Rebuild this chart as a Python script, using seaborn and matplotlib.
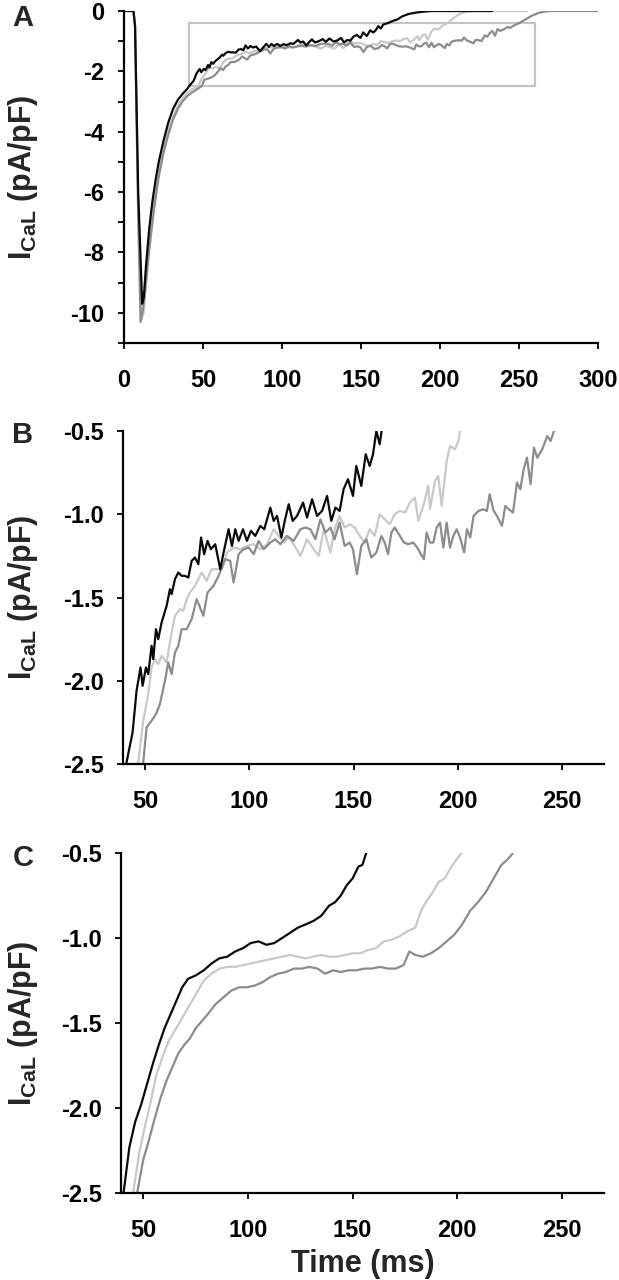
import numpy as np
import pandas as pd
import matplotlib
matplotlib.use("Agg")
import matplotlib.pyplot as plt
from matplotlib.patches import Rectangle
from matplotlib.ticker import MultipleLocator, FormatStrFormatter
import seaborn as sns

black_raw = [(0, 0), (6, 0), (7, -0.5), (9, -6.0), (11.5, -9.7), (12.5, -9.5), (14, -8.4), (16, -7.2),
             (18, -6.3), (20, -5.6), (22, -5.0), (25, -4.3), (28, -3.7), (31, -3.25), (34, -2.95),
             (37, -2.75), (40, -2.58), (41.2, -2.49), (44.1, -2.31), (46, -2.06), (47.9, -1.92),
             (48.9, -2.03), (50.5, -1.92), (51.6, -1.96), (53.2, -1.79), (54, -1.87), (55.3, -1.69),
             (56.4, -1.75), (58, -1.65), (60.4, -1.55), (62, -1.45), (62.8, -1.48), (64.4, -1.39),
             (66, -1.35), (67.6, -1.37), (69.2, -1.37), (70.8, -1.38), (72.4, -1.28), (74, -1.26),
             (75.6, -1.30), (76.9, -1.14), (78.4, -1.24), (80, -1.16), (81.6, -1.21), (83.7, -1.18),
             (86.1, -1.33), (87.7, -1.23), (90.1, -1.09), (91.7, -1.19), (93.3, -1.09), (94.9, -1.16),
             (97, -1.09), (98.9, -1.16), (100.8, -1.10), (102.9, -1.13), (105.3, -1.07), (107.2, -1.09),
             (110.1, -0.96), (111.7, -1.04), (113.3, -1.01), (115.4, -1.14), (117, -1.04), (118.9, -0.94),
             (120.8, -1.04), (122.9, -1.01), (125.8, -0.93), (127.7, -1.02), (130.1, -0.91), (132.5, -1.01),
             (134.9, -0.98), (137.3, -0.89), (139.3, -1.04), (141.3, -0.96), (143.3, -0.98), (145.2, -0.85),
             (147.3, -0.79), (149.7, -0.89), (151.3, -0.71), (153.7, -0.83), (155.8, -0.64), (157.7, -0.71),
             (159.3, -0.64), (160.9, -0.50), (162.5, -0.58), (164, -0.45), (167, -0.40), (170, -0.33),
             (173, -0.28), (176, -0.18), (180, -0.10), (185, -0.05), (190, -0.02), (195, 0), (233, 0)]

light_raw = [(0, 0), (6, 0), (7, -0.5), (9, -6.5), (11, -10.2), (12.5, -10.0), (14, -8.8), (16, -7.6),
             (18, -6.7), (20, -6.0), (22, -5.3), (25, -4.55), (28, -3.95), (31, -3.5), (34, -3.15),
             (37, -2.9), (40, -2.72), (43, -2.6), (46.8, -2.49), (49.2, -2.24), (51.6, -2.08), (53.2, -1.92),
             (54.8, -1.87), (56.4, -1.90), (58, -1.85), (60.4, -1.89), (62.8, -1.71), (64.4, -1.61),
             (66.8, -1.57), (68.4, -1.58), (70, -1.51), (71.6, -1.47), (74, -1.43), (76.4, -1.37),
             (77.2, -1.35), (79.6, -1.40), (82, -1.33), (84.5, -1.33), (86.9, -1.33), (89.3, -1.23),
             (92.5, -1.20), (95.7, -1.21), (98.9, -1.19), (102.1, -1.18), (105.3, -1.21), (108.5, -1.18),
             (111.7, -1.09), (114.1, -1.13), (116.5, -1.17), (118.9, -1.14), (121.3, -1.18), (124.5, -1.25),
             (127.7, -1.15), (130.9, -1.21), (133.3, -1.25), (135.7, -1.09), (138.9, -1.23), (140.9, -1.09),
             (143.3, -1.01), (145.7, -1.08), (148.1, -1.06), (150.5, -1.08), (152.9, -1.13), (155.3, -1.17),
             (157.7, -1.09), (160.1, -1.13), (162.5, -1.00), (164.9, -1.03), (167.3, -1.06), (169.7, -1.00),
             (172.2, -0.98), (174.6, -0.99), (177, -0.93), (179.4, -0.90), (181, -1.04), (183.4, -0.95),
             (185.8, -0.83), (186.6, -0.97), (189, -0.80), (190.6, -0.77), (192.2, -0.95), (194.6, -0.68),
             (196.2, -0.59), (198.6, -0.61), (200.2, -0.56), (201, -0.50), (204, -0.42), (207, -0.30),
             (210, -0.18), (213, -0.08), (217, -0.02), (222, 0), (255, 0)]

grey_raw = [(0, 0), (6, 0), (7, -0.5), (9, -6.8), (10.5, -10.3), (12, -9.9), (14, -9.0), (16, -7.9),
            (18, -7.0), (20, -6.2), (22, -5.5), (25, -4.7), (28, -4.1), (31, -3.6), (34, -3.25),
            (37, -3.0), (40, -2.82), (43, -2.7), (46, -2.6), (49.2, -2.49), (50.8, -2.28), (53.2, -2.24),
            (55.3, -2.20), (57.2, -2.14), (59.6, -2.00), (61.2, -1.89), (62.8, -1.96), (64.4, -1.83),
            (66, -1.79), (67.6, -1.69), (70, -1.69), (72.4, -1.63), (74.8, -1.51), (78, -1.61),
            (80, -1.47), (82.9, -1.43), (85.3, -1.37), (88.5, -1.27), (90.9, -1.28), (92.5, -1.41),
            (94.9, -1.24), (97.3, -1.21), (99.7, -1.20), (102.1, -1.24), (104.5, -1.16), (106.9, -1.21),
            (110.1, -1.17), (112.5, -1.15), (114.9, -1.18), (118.1, -1.13), (121.3, -1.16), (124.5, -1.09),
            (126.9, -1.08), (129.3, -1.09), (131.7, -1.15), (134.1, -1.03), (136.5, -1.11), (138.9, -1.08),
            (140.9, -1.15), (143.3, -1.05), (145.7, -1.19), (148.1, -1.17), (149.7, -1.21), (151.6, -1.36),
            (153.7, -1.19), (156.1, -1.15), (158.5, -1.26), (160.9, -1.23), (163.3, -1.13), (164.9, -1.17),
            (166.5, -1.24), (168.1, -1.11), (169.7, -1.08), (172.2, -1.13), (174.1, -1.17), (176.2, -1.18),
            (178.6, -1.17), (180.5, -1.20), (181.8, -1.23), (183.7, -1.27), (185, -1.11), (186.6, -1.17),
            (188.2, -1.17), (189.8, -1.08), (191.4, -1.05), (193, -1.20), (194.6, -1.05), (196.2, -1.20),
            (197.8, -1.13), (199.4, -1.09), (201, -1.14), (203, -1.23), (204.3, -1.09), (205.9, -1.14),
            (207.5, -1.01), (209.9, -0.98), (212.3, -0.97), (213.9, -0.98), (215.2, -0.88), (217.1, -0.98),
            (218.7, -1.01), (221.1, -1.07), (222.7, -0.95), (224.3, -0.97), (226.4, -0.99), (228.3, -0.81),
            (229.9, -0.85), (231.5, -0.73), (233.1, -0.66), (234.8, -0.82), (236.4, -0.60), (238, -0.66),
            (240.4, -0.61), (242.8, -0.53), (244.4, -0.56), (246, -0.50), (250, -0.40), (254, -0.28),
            (258, -0.16), (262, -0.07), (266, -0.02), (270, 0), (300, 0)]

# Smoothed traces shown in panel C
black_avg = [(40.7, -2.5), (43.5, -2.23), (46.3, -2.08), (49.1, -1.98), (51.9, -1.86), (54.7, -1.74),
             (57.5, -1.63), (60.3, -1.53), (63.1, -1.45), (65.9, -1.37), (68.7, -1.29), (71.5, -1.24),
             (75.2, -1.22), (79, -1.19), (82.7, -1.15), (86.4, -1.12), (90.2, -1.11), (93.9, -1.08),
             (97.7, -1.06), (101.4, -1.03), (105.1, -1.02), (108.9, -1.04), (112.6, -1.03), (116.4, -1.0),
             (120.1, -0.97), (123.8, -0.94), (127.6, -0.92), (131.3, -0.90), (135, -0.87), (138.8, -0.81),
             (141.6, -0.79), (144.4, -0.75), (147.2, -0.69), (150, -0.65), (152.8, -0.58), (154.7, -0.57),
             (156.5, -0.50)]

light_avg = [(45.3, -2.5), (48.1, -2.27), (50.9, -2.11), (53.7, -1.96), (56.5, -1.80), (59.3, -1.70),
             (62.1, -1.61), (64.9, -1.55), (67.8, -1.49), (70.6, -1.43), (73.4, -1.37), (76.2, -1.31),
             (79, -1.25), (82.7, -1.21), (86.4, -1.18), (90.2, -1.17), (93.9, -1.17), (97.7, -1.16),
             (101.4, -1.15), (105.1, -1.14), (108.9, -1.13), (112.6, -1.12), (116.4, -1.11), (120.1, -1.10),
             (123.8, -1.11), (127.6, -1.12), (131.3, -1.11), (135, -1.10), (138.8, -1.11), (142.5, -1.11),
             (146.3, -1.10), (150, -1.09), (153.7, -1.09), (157.5, -1.07), (161.2, -1.06), (164.9, -1.02),
             (168.7, -1.01), (172.4, -0.99), (176.2, -0.96), (179.9, -0.94), (182.7, -0.84), (185.5, -0.78),
             (188.3, -0.73), (191.1, -0.67), (193.9, -0.65), (196.7, -0.59), (199.5, -0.54), (202, -0.50)]

grey_avg = [(47.2, -2.5), (50, -2.31), (52.8, -2.19), (55.6, -2.06), (58.4, -1.94), (61.2, -1.84),
            (64, -1.76), (66.8, -1.68), (69.6, -1.63), (72.4, -1.59), (75.2, -1.53), (78, -1.49),
            (80.8, -1.45), (84.6, -1.39), (88.3, -1.35), (92.1, -1.31), (95.8, -1.29), (99.5, -1.29),
            (103.3, -1.28), (107, -1.26), (110.7, -1.23), (114.5, -1.21), (118.2, -1.20), (122, -1.18),
            (125.7, -1.18), (129.4, -1.17), (133.2, -1.18), (136.9, -1.21), (140.7, -1.19), (144.4, -1.20),
            (148.1, -1.19), (151.9, -1.19), (155.6, -1.18), (159.3, -1.18), (163.1, -1.17), (166.8, -1.18),
            (170.6, -1.18), (174.3, -1.16), (177.1, -1.08), (179.9, -1.10), (183.6, -1.11), (187.4, -1.09),
            (191.1, -1.06), (194.9, -1.02), (198.6, -0.98), (202.3, -0.92), (206.1, -0.84), (209.8, -0.79),
            (213.6, -0.73), (217.3, -0.65), (221, -0.57), (223.8, -0.54), (226.6, -0.50)]

trace_names = ["light", "grey", "black"]
trace_colors = {"light": "#c9c9c9", "grey": "#8c8c8c", "black": "#0a0a0a"}


def to_frame(traces):
    rows = []
    for name, pts in traces.items():
        for t, v in pts:
            rows.append({"time": t, "current": v, "trace": name})
    return pd.DataFrame(rows)


raw_df = to_frame({"light": light_raw, "grey": grey_raw, "black": black_raw})
avg_df = to_frame({"light": light_avg, "grey": grey_avg, "black": black_avg})

sns.set_style("ticks")
plt.rcParams["font.family"] = ["Liberation Sans", "DejaVu Sans"]
plt.rcParams["font.weight"] = "bold"
plt.rcParams["axes.unicode_minus"] = False
plt.rcParams["mathtext.fontset"] = "custom"
plt.rcParams["mathtext.rm"] = "Liberation Sans:bold"
plt.rcParams["mathtext.bf"] = "Liberation Sans:bold"

fig = plt.figure(figsize=(6.19, 12.8), dpi=100)
axA = fig.add_axes([0.2003, 0.7320, 0.7658, 0.2594])
axB = fig.add_axes([0.1987, 0.4031, 0.7771, 0.2602])
axC = fig.add_axes([0.1955, 0.0680, 0.7803, 0.2656])

ylab = r"$\mathbf{I_{CaL}}$ (pA/pF)"
# right edge of the y label sits ~40 px from the figure's left edge
label_x = {axA: -0.177, axB: -0.173, axC: -0.168}

for ax, df in [(axA, raw_df), (axB, raw_df), (axC, avg_df)]:
    sns.lineplot(data=df, x="time", y="current", hue="trace", hue_order=trace_names,
                 palette=trace_colors, estimator=None, sort=False, lw=1.6,
                 legend=False, ax=ax)
    sns.despine(ax=ax)
    for s in ["left", "bottom"]:
        ax.spines[s].set_linewidth(1.6)
        ax.spines[s].set_color("black")
    ax.tick_params(which="both", direction="out", length=4, width=1.3,
                   colors="black", labelsize=17, pad=10)
    ax.tick_params(axis="x", pad=15)
    ax.set_ylabel(ylab, fontsize=22, fontweight="bold")
    ax.yaxis.set_label_coords(label_x[ax], 0.5)
    ax.set_xlabel("")

# panel A: full trace
axA.set_xlim(0, 300)
axA.set_ylim(-11, 0)
axA.xaxis.set_major_locator(MultipleLocator(50))
axA.yaxis.set_major_locator(MultipleLocator(2))
axA.yaxis.set_minor_locator(MultipleLocator(1))
axA.add_patch(Rectangle((41, -2.47), 219, 2.06, fill=False, edgecolor="#c4c4c4", lw=1.6, zorder=1))

# panels B and C: zoomed region
for ax in [axB, axC]:
    ax.set_xlim(39.5, 270)
    ax.set_ylim(-2.5, -0.5)
    ax.set_xticks([50, 100, 150, 200, 250])
    ax.set_yticks([-2.5, -2.0, -1.5, -1.0, -0.5])
    ax.yaxis.set_major_formatter(FormatStrFormatter("%.1f"))

axC.set_xlabel("Time (ms)", fontsize=22, fontweight="bold", labelpad=5)

for ax in [axA, axB, axC]:
    for lab in ax.get_xticklabels() + ax.get_yticklabels():
        lab.set_fontweight("bold")

fig.text(0.020, 0.986, "A", fontsize=21, fontweight="bold", va="center")
fig.text(0.020, 0.660, "B", fontsize=21, fontweight="bold", va="center")
fig.text(0.020, 0.330, "C", fontsize=21, fontweight="bold", va="center")

fig.savefig("out.png", dpi=100)
